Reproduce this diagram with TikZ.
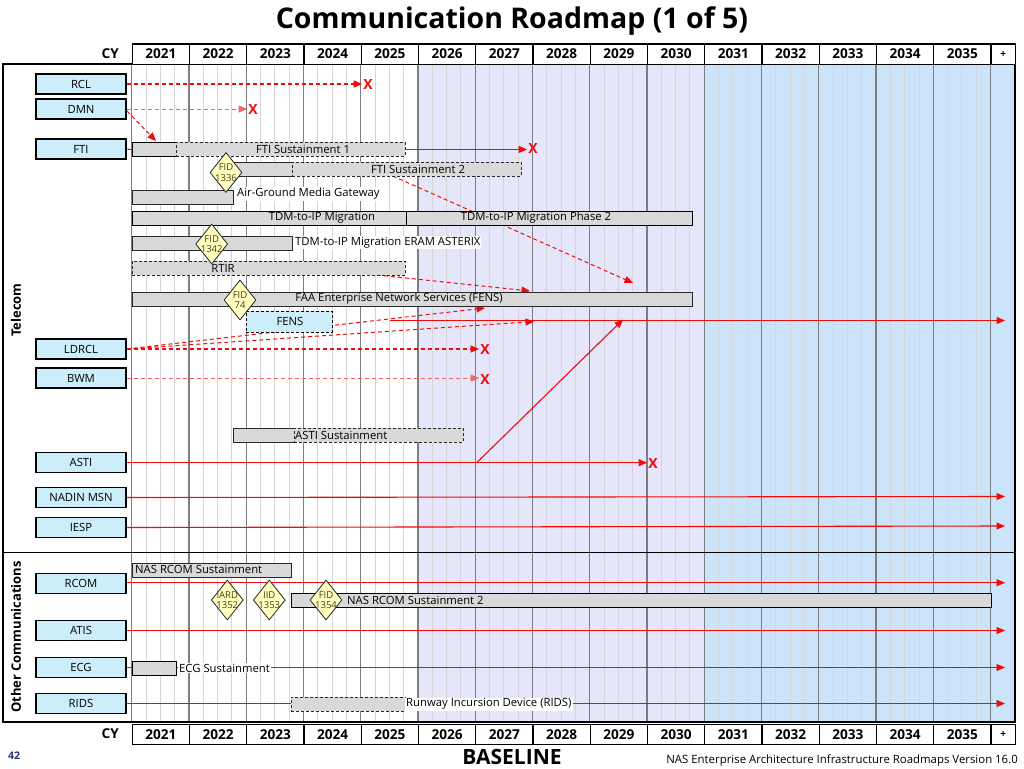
\documentclass[tikz,border=0pt]{standalone}
\usepackage{fontspec}
\setmainfont{Open Sans}
\usetikzlibrary{shapes.geometric,arrows.meta}
\definecolor{lav}{RGB}{230,230,250}
\definecolor{lblue}{RGB}{204,228,250}
\definecolor{boxc}{RGB}{204,238,250}
\definecolor{barg}{RGB}{217,217,217}
\definecolor{dia}{RGB}{255,255,192}
\definecolor{rr}{RGB}{240,10,10}
\definecolor{lr}{RGB}{245,100,100}
\definecolor{qline}{RGB}{212,212,218}
\definecolor{yline}{RGB}{125,125,130}
\definecolor{navy}{RGB}{40,50,120}
\definecolor{bord}{RGB}{40,40,40}
\definecolor{fidc}{RGB}{70,62,20}
\pgfdeclarelayer{bg}\pgfdeclarelayer{ln}\pgfsetlayers{bg,ln,main}
\begin{document}
\begin{tikzpicture}[x=1pt,y=-1pt,
 sysbox/.style={draw=black,line width=1.1pt,fill=boxc,minimum width=90pt,minimum height=20pt,inner sep=0pt,font=\fontsize{11.3}{13}\selectfont},
 hdr/.style={draw=black,line width=1.1pt,fill=white,minimum height=20pt,inner sep=0pt,anchor=north west,font=\bfseries\fontsize{13.6}{15}\selectfont},
 barS/.style={draw=bord,line width=0.9pt,fill=barg,inner sep=0pt,anchor=north west,minimum height=14pt},
 barT/.style={barS,draw=black,line width=1.3pt},
 barD/.style={barS,dash pattern=on 3pt off 2pt},
 fid/.style={diamond,draw=bord,line width=0.8pt,fill=dia,minimum width=32pt,minimum height=40pt,inner sep=0pt},
 fidtxt/.style={align=center,inner sep=0pt,text=fidc,font=\fontsize{9.5}{10.5}\selectfont},
 lbl/.style={inner sep=1pt,font=\fontsize{11.3}{13}\selectfont},
 lblw/.style={lbl,fill=white,anchor=west},
 xmark/.style={text=rr,inner sep=1pt,font=\bfseries\fontsize{14}{16}\selectfont},
 tip/.style={-{Triangle[length=8.5pt,width=7pt]}},
 dashR/.style={draw=rr,line width=1.2pt,dash pattern=on 4pt off 3pt,tip},
 dashL/.style={draw=lr,line width=0.8pt,dash pattern=on 4pt off 3pt,tip},
 solR/.style={draw=rr,line width=1.1pt,tip},
 thinR/.style={draw=rr,line width=0.7pt,tip},
 plainR/.style={draw=rr,line width=1.1pt}
]
\useasboundingbox (0,0) rectangle (1024,768);
% ---------- background grid ----------
\begin{pgfonlayer}{bg}
\fill[white] (0,0) rectangle (1024,768);
\fill[lav] (418.7,64) rectangle (704.7,722);
\fill[lblue] (704.7,64) rectangle (1015,722);
\foreach \i in {0,...,14}{
  \foreach \k in {1,2,3}{
    \draw[qline,line width=0.8pt] ({131.7+57.25*\i+14.3125*\k},64) -- ({131.7+57.25*\i+14.3125*\k},722);
  }
}
\foreach \i in {0,...,15}{
  \draw[yline,line width=1.1pt] ({131.7+57.25*\i},64) -- ({131.7+57.25*\i},722);
}
\draw[black,line width=1.2pt] (3,64) rectangle (1015,722);
\draw[black,line width=1.2pt] (3,552.7) -- (1015,552.7);
\end{pgfonlayer}
% ---------- title & headers ----------
\node[font=\bfseries\fontsize{28.5}{32}\selectfont] (title) at (512,21) {Communication Roadmap (1 of 5)};
\foreach \i in {0,...,14}{
  \pgfmathtruncatemacro\yr{2021+\i}
  \node[hdr,minimum width=57.25pt] (top\yr) at ({131.7+57.25*\i},43.5) {\yr};
  \node[hdr,minimum width=57.25pt] (bot\yr) at ({131.7+57.25*\i},724) {\yr};
}
\node[hdr,minimum width=24.5pt,font=\bfseries\fontsize{10}{11}\selectfont] (topplus) at (990.5,43.5) {+};
\node[hdr,minimum width=24.5pt,font=\bfseries\fontsize{10}{11}\selectfont] (botplus) at (990.5,724) {+};
\node[anchor=east,inner sep=0pt,font=\bfseries\fontsize{13.6}{15}\selectfont] (cytop) at (119,53.5) {CY};
\node[anchor=east,inner sep=0pt,font=\bfseries\fontsize{13.6}{15}\selectfont] (cybot) at (119,734) {CY};
% ---------- group labels ----------
\node[rotate=90,font=\bfseries\fontsize{13}{15}\selectfont] (gtel) at (16,310) {Telecom};
\node[rotate=90,font=\bfseries\fontsize{13}{15}\selectfont] (goth) at (16,637) {Other Communications};
% ---------- system boxes ----------
\node[sysbox] (rcl) at (81,84) {RCL};
\node[sysbox] (dmn) at (81,109) {DMN};
\node[sysbox] (fti) at (81,149) {FTI};
\node[sysbox] (ldrcl) at (81,349) {LDRCL};
\node[sysbox] (bwm) at (81,378) {BWM};
\node[sysbox] (asti) at (81,462.7) {ASTI};
\node[sysbox] (nadin) at (81,497.5) {NADIN MSN};
\node[sysbox] (iesp) at (81,527.5) {IESP};
\node[sysbox] (rcom) at (81,583.8) {RCOM};
\node[sysbox] (atis) at (81,630.5) {ATIS};
\node[sysbox] (ecg) at (81,667.5) {ECG};
\node[sysbox] (rids) at (81,703.5) {RIDS};
% ---------- bars ----------
\node[barT,minimum width=44pt] (fti1a) at (132,142) {};
\node[barD,minimum width=229pt] (fti1b) at (176,142) {};
\node[barS,minimum width=62pt] (fti2a) at (230,162) {};
\node[barD,minimum width=229pt] (fti2b) at (292,162) {};
\node[barS,minimum width=101pt] (agmg) at (132,190) {};
\node[barT,minimum width=274pt] (tdm1) at (132,211) {};
\node[barT,minimum width=285.5pt] (tdm2) at (406,211) {};
\node[barS,minimum width=160pt] (eram) at (132,236) {};
\node[barD,minimum width=273pt] (rtir) at (132,261) {};
\node[barS,minimum width=559.5pt] (fensbar) at (132,292) {};
\node[barD,fill=boxc,draw=black,minimum width=86pt,minimum height=21pt] (fensbox) at (246,311) {};
\node[barS,minimum width=61pt] (astia) at (233,427.5) {};
\node[barD,minimum width=169pt] (astib) at (294,427.5) {};
\node[barS,minimum width=159pt,minimum height=13.5pt] (rcom1) at (132,563) {};
\node[barT,minimum width=700pt] (rcom2) at (291,593) {};
\node[barT,minimum width=44pt,minimum height=13.5pt] (ecgbar) at (132,661) {};
\node[barD,minimum width=114pt] (ridsbar) at (291,697) {};
% ---------- bar labels ----------
\node[lbl] (tfti1) at (303,149) {FTI Sustainment 1};
\node[lbl] (tfti2) at (418,169) {FTI Sustainment 2};
\node[lblw] (tagmg) at (236,194) {Air-Ground Media Gateway};
\node[lbl] (ttdm1) at (322,218) {TDM-to-IP Migration};
\node[lbl] (ttdm2) at (536,218) {TDM-to-IP Migration Phase 2};
\node[lblw] (teram) at (294,242.5) {TDM-to-IP Migration ERAM ASTERIX};
\node[lbl] (trtir) at (223,268) {RTIR};
\node[lbl] (tfens) at (399,299) {FAA Enterprise Network Services (FENS)};
\node[lbl] (tfensb) at (290,321.5) {FENS};
\node[lbl,anchor=west] (tasti) at (294,435) {ASTI Sustainment};
\node[lbl,anchor=west] (trcom1) at (134,569.5) {NAS RCOM Sustainment};
\node[lbl,anchor=west] (trcom2) at (346,600) {NAS RCOM Sustainment 2};
\node[lblw] (tecg) at (178,668) {ECG Sustainment};
\node[lblw] (trids) at (405,704) {Runway Incursion Device (RIDS)};
% ---------- decision diamonds ----------
\node[fid] (d1336) at (226,172.5) {};
\node[fidtxt] at (d1336) {FID\\1336};
\node[fid] (d1342) at (211.7,244) {};
\node[fidtxt] at (d1342) {FID\\1342};
\node[fid] (d74) at (240,300) {};
\node[fidtxt] at (d74) {FID\\74};
\node[fid] (d1352) at (227.3,600) {};
\node[fidtxt] at (d1352) {IARD\\1352};
\node[fid] (d1353) at (269.3,600) {};
\node[fidtxt] at (d1353) {IID\\1353};
\node[fid] (d1354) at (326,600) {};
\node[fidtxt] at (d1354) {FID\\1354};
% ---------- end marks ----------
\node[xmark] (xrcl) at (368,85) {X};
\node[xmark] (xdmn) at (253,110) {X};
\node[xmark] (xfti) at (533,148.5) {X};
\node[xmark] (xldrcl) at (485,349.5) {X};
\node[xmark] (xbwm) at (485,379) {X};
\node[xmark] (xasti) at (653,463) {X};
% ---------- free connector ends ----------
\coordinate (dmnout) at (127,111);
\coordinate (ftiin) at (156,141);
\coordinate (fti2out) at (392.7,176);
\coordinate (fti2tip) at (633,283);
\coordinate (rtirout) at (377,275);
\coordinate (rtirtip) at (530,291);
\coordinate (fenstipA) at (485,308);
\coordinate (fenstipB) at (534,321.5);
\coordinate (fensstart) at (390,320.5);
\coordinate (fensend) at (1005,320.5);
\coordinate (astiturn) at (476.7,462.7);
\coordinate (astitip) at (623,319.5);
\coordinate (nadinend) at (1005,496.5);
\coordinate (iespend) at (1005,526);
\coordinate (rcomend) at (1005,582.7);
\coordinate (atisend) at (1005,630.5);
\coordinate (ecgend) at (1005,667.5);
\coordinate (ridsend) at (1005,703.5);
% ---------- connectors ----------
\begin{pgfonlayer}{ln}
\draw[dashR] (rcl.east) -- (xrcl.west |- rcl.east);
\draw[dashL] (dmn.east) -- (xdmn.west |- dmn.east);
\draw[dashR,line width=1pt] (dmnout) -- (ftiin);
\draw[plainR] (fti.east) -- (fti1a.west);
\draw[solR] (fti1b.east) -- (xfti.west |- fti1b.east);
\draw[dashR,line width=1pt] (fti2out) -- (fti2tip);
\draw[dashR,line width=1pt] (rtirout) -- (rtirtip);
\draw[dashR,line width=1pt] (ldrcl.east) -- (fenstipA);
\draw[dashR,line width=1pt] (ldrcl.east) -- (fenstipB);
\draw[dashR] (ldrcl.east) -- (xldrcl.west |- ldrcl.east);
\draw[dashL] (bwm.east) -- (xbwm.west |- bwm.east);
\draw[solR] (fensstart) -- (fensend);
\draw[solR] (asti.east) -- (xasti.west |- asti.east);
\draw[solR] (astiturn) -- (astitip);
\draw[solR] (nadin.east) -- (nadinend);
\draw[solR] (iesp.east) -- (iespend);
\draw[thinR] (rcom.east |- rcomend) -- (rcomend);
\draw[thinR] (atis.east) -- (atisend);
\draw[thinR] (ecg.east) -- (ecgend);
\draw[thinR] (rids.east) -- (ridsend);
\end{pgfonlayer}
% ---------- footer ----------
\node[text=navy,font=\bfseries\fontsize{10.5}{12}\selectfont] (pg) at (14,756) {42};
\node[font=\bfseries\fontsize{21}{24}\selectfont] (base) at (512,757) {BASELINE};
\node[anchor=east,inner sep=0pt,font=\fontsize{11.4}{13}\selectfont] (foot) at (1018,760) {NAS Enterprise Architecture Infrastructure Roadmaps Version 16.0};
\end{tikzpicture}
\end{document}
